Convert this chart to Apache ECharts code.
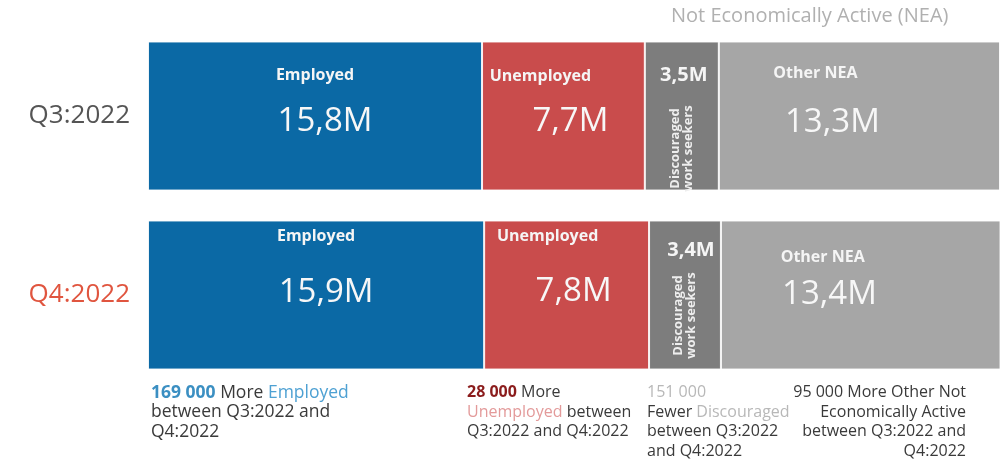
<!DOCTYPE html>
<html>
<head>
<meta charset="utf-8">
<script src="https://cdn.jsdelivr.net/npm/echarts@6/dist/echarts.min.js"></script>
<style>
html,body{margin:0;padding:0;background:#fff;}
#chart{width:1000px;height:466px;}
</style>
</head>
<body>
<div id="chart"></div>
<script>
// ---- data ----
const categories = ['Q3:2022', 'Q4:2022'];
const employed = [15.8, 15.9];
const unemployed = [7.7, 7.8];
const discouraged = [3.5, 3.4];
const otherNEA = [13.3, 13.4];
const segmentNames = ['Employed', 'Unemployed', 'Discouraged\nwork seekers', 'Other NEA'];
const groupTitle = 'Not Economically Active (NEA)';

// ---- layout (label placement per bar, not data) ----
const FONT = '"Open Sans", sans-serif';
const nameLayout = [
  [[0, 33.5], [0, 15.5]],
  [[-23, 34.5], [-19, 15.5]],
  [[2, 33.5], [6, 29.5]],
  [[-44, 31.5], [-38, 36.5]]
];
const valueLayout = [
  [[10, 80.5], [10, 72.5]],
  [[7, 80.5], [7, 71.5]],
  [[-9, 98], [-12, 83]],
  [[-27, 81.5], [-31, 74.5]]
];
const colors = ['#0b69a5', '#c94c4c', '#7d7d7d', '#a6a6a6'];
const fmt = v => v.toFixed(1).replace('.', ',') + 'M';

const seriesValues = [employed, unemployed, discouraged, otherNEA];

const series = [];
seriesValues.forEach((vals, si) => {
  // visible bar with the bold heading label
  series.push({
    type: 'bar', stack: 'main', name: segmentNames[si], barWidth: 149, barGap: '-100%',
    itemStyle: { color: colors[si], borderColor: 'rgba(255,255,255,0.85)', borderWidth: 1 },
    data: vals.map((v, i) => ({
      value: v,
      label: {
        show: true,
        position: ['50%', nameLayout[si][i][1]],
        offset: [nameLayout[si][i][0], 0],
        align: 'center', verticalAlign: 'middle',
        formatter: si === 2 ? fmt(v) : segmentNames[si],
        color: '#f5f5f5', fontFamily: FONT, fontWeight: 'bold',
        fontSize: si === 2 ? 20 : 16
      }
    }))
  });
});
seriesValues.forEach((vals, si) => {
  // transparent twin carrying the second label
  series.push({
    type: 'bar', stack: 'over', barWidth: 149, barGap: '-100%', silent: true,
    itemStyle: { color: 'rgba(0,0,0,0)' },
    data: vals.map((v, i) => ({
      value: v,
      label: si === 2 ? {
        show: true,
        position: ['50%', valueLayout[si][i][1]],
        offset: [valueLayout[si][i][0], 0],
        align: 'center', verticalAlign: 'middle', rotate: 90,
        formatter: segmentNames[si],
        color: '#eeeeee', fontFamily: FONT, fontWeight: 'bold', fontSize: 13, lineHeight: 13
      } : {
        show: true,
        position: ['50%', valueLayout[si][i][1]],
        offset: [valueLayout[si][i][0], 0],
        align: 'center', verticalAlign: 'middle',
        formatter: fmt(v),
        color: '#f7f7f7', fontFamily: FONT, fontSize: 33
      }
    }))
  });
});

const dark = '#3a3a3a';
const NL = 19.5;
const note = (ns, extra, rich) => Object.assign({ fontFamily: FONT, fontSize: ns, lineHeight: NL, fill: dark }, extra, rich ? { rich: rich } : {});
const option = {
  animation: false,
  backgroundColor: '#ffffff',
  grid: { left: 148, right: 0, top: 26.5, height: 358, containLabel: false },
  xAxis: { type: 'value', min: 0, max: 40.3, show: false },
  yAxis: {
    type: 'category', data: categories, inverse: true,
    axisLine: { show: false }, axisTick: { show: false }, splitLine: { show: false },
    axisLabel: {
      margin: 18, fontFamily: FONT, fontSize: 26,
      color: (val, idx) => idx === 1 ? '#e0553f' : '#555555'
    }
  },
  series: series,
  graphic: [
    { type: 'text', left: 671, top: 6, style: { text: groupTitle, fontFamily: FONT, fontSize: 20, fill: '#b0b0b0' } },
    { type: 'text', left: 151, top: 383, style: note(17.5, {
      text: '{b|169 000} More {e|Employed}\nbetween Q3:2022 and\nQ4:2022'
    }, {
      b: { fontFamily: FONT, fontSize: 17.5, fontWeight: 'bold', fill: '#3b8fc2', lineHeight: NL },
      e: { fontFamily: FONT, fontSize: 17.5, fill: '#4ea1d3', lineHeight: NL }
    }) },
    { type: 'text', left: 467, top: 383, style: note(16, {
      text: '{b|28 000} More\n{e|Unemployed} between\nQ3:2022 and Q4:2022'
    }, {
      b: { fontFamily: FONT, fontSize: 16, fontWeight: 'bold', fill: '#8b1c1c', lineHeight: NL },
      e: { fontFamily: FONT, fontSize: 16, fill: '#e39a9a', lineHeight: NL }
    }) },
    { type: 'text', left: 647, top: 383, style: note(16, {
      text: '{g|151 000}\nFewer {g|Discouraged}\nbetween Q3:2022\nand Q4:2022'
    }, {
      g: { fontFamily: FONT, fontSize: 16, fill: '#b8b8b8', lineHeight: NL }
    }) },
    { type: 'text', x: 966, y: 383, style: note(16, {
      text: '95 000 More Other Not\nEconomically Active\nbetween Q3:2022 and\nQ4:2022',
      align: 'right', textAlign: 'right', verticalAlign: 'top'
    }) }
  ]
};

const chart = echarts.init(document.getElementById('chart'), null, { renderer: 'canvas' });
chart.setOption(option);
</script>
</body>
</html>
